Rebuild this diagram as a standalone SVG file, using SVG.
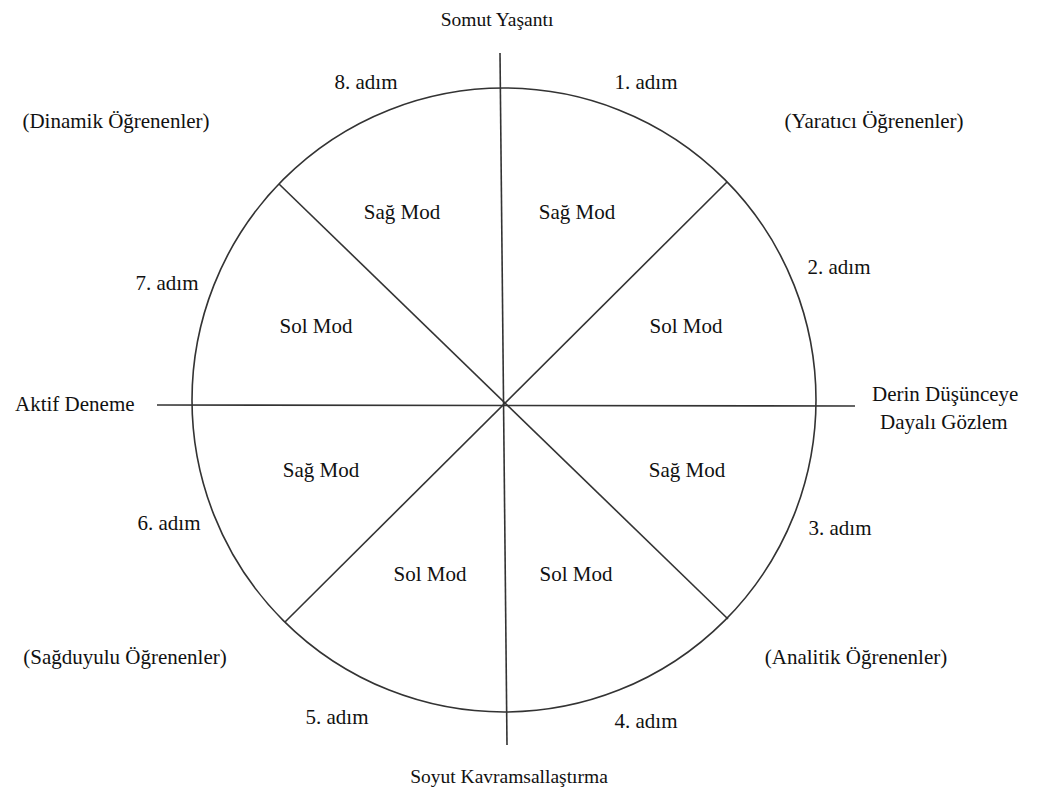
<svg xmlns="http://www.w3.org/2000/svg" width="1039" height="796" viewBox="0 0 1039 796">
<style>
text{font-family:"Liberation Serif","Times New Roman",serif;font-size:21px;fill:#111}
.m{text-anchor:middle}
.ax{font-size:19.5px}
.ln{stroke:#333;stroke-width:1.6;fill:none}
</style>
<rect width="1039" height="796" fill="#fff"/>
<g id="connectors">
<circle class="ln" cx="504" cy="400" r="312"/>
<line class="ln" x1="500" y1="53" x2="507" y2="745"/>
<line class="ln" x1="157" y1="405" x2="855" y2="406"/>
<line class="ln" x1="279" y1="184" x2="728" y2="619"/>
<line class="ln" x1="727" y1="182" x2="285" y2="622"/>
</g>
<g id="axis-labels">
<text class="m ax" x="497" y="26">Somut Yaşantı</text>
<text class="m ax" x="509" y="783">Soyut Kavramsallaştırma</text>
<text x="15" y="411">Aktif Deneme</text>
<text x="872" y="401">Derin Düşünceye</text>
<text x="880" y="429">Dayalı Gözlem</text>
</g>
<g id="learners">
<text class="m" x="116" y="128">(Dinamik Öğrenenler)</text>
<text class="m" x="874" y="128">(Yaratıcı Öğrenenler)</text>
<text class="m" x="125" y="664">(Sağduyulu Öğrenenler)</text>
<text class="m" x="856" y="664">(Analitik Öğrenenler)</text>
</g>
<g id="steps">
<text class="m" x="646" y="89">1. adım</text>
<text class="m" x="839" y="274">2. adım</text>
<text class="m" x="840" y="535">3. adım</text>
<text class="m" x="646" y="728">4. adım</text>
<text class="m" x="337" y="724">5. adım</text>
<text class="m" x="169" y="530">6. adım</text>
<text class="m" x="167" y="290">7. adım</text>
<text class="m" x="366" y="89">8. adım</text>
</g>
<g id="modes">
<text class="m" x="402" y="219">Sağ Mod</text>
<text class="m" x="577" y="219">Sağ Mod</text>
<text class="m" x="316" y="333">Sol Mod</text>
<text class="m" x="686" y="333">Sol Mod</text>
<text class="m" x="321" y="477">Sağ Mod</text>
<text class="m" x="687" y="477">Sağ Mod</text>
<text class="m" x="430" y="581">Sol Mod</text>
<text class="m" x="576" y="581">Sol Mod</text>
</g>
</svg>
